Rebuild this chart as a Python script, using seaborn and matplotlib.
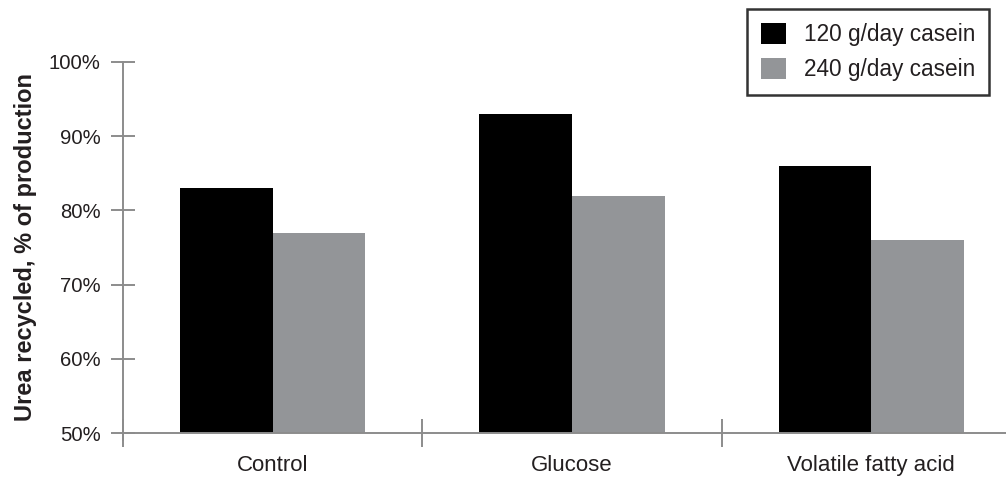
import matplotlib
matplotlib.use("Agg")
import matplotlib.pyplot as plt
import seaborn as sns
import pandas as pd
from matplotlib.ticker import FixedLocator, FuncFormatter

categories = ["Control", "Glucose", "Volatile fatty acid"]
series_names = ["120 g/day casein", "240 g/day casein"]
values_120 = [83, 93, 86]
values_240 = [77, 82, 76]
y_ticks = [50, 60, 70, 80, 90, 100]
y_label = "Urea recycled, % of production"

df = pd.DataFrame({
    "category": categories * 2,
    "series": [series_names[0]] * 3 + [series_names[1]] * 3,
    "value": values_120 + values_240,
})

sns.set_style("white")
plt.rcParams["font.family"] = ["Liberation Sans", "DejaVu Sans"]

axis_gray = "#8c8c8c"
text_col = "#231f20"
fig = plt.figure(figsize=(10.06, 4.79), dpi=100)
ax = fig.add_axes([0.1223, 0.096, 0.8777, 0.7746])

sns.barplot(data=df, x="category", y="value", hue="series",
            palette=["#000000", "#939598"], saturation=1, width=0.62,
            gap=0, linewidth=0, errorbar=None, ax=ax, zorder=2)

ax.set_ylim(50, 100)
ax.set_xlim(-0.5, 2.45)

for s in ["top", "right"]:
    ax.spines[s].set_visible(False)
ax.spines["left"].set_color(axis_gray)
ax.spines["left"].set_linewidth(1.4)
ax.spines["left"].set_bounds(49, 100)
ax.spines["bottom"].set_color(axis_gray)
ax.spines["bottom"].set_linewidth(1.4)
ax.spines["bottom"].set_zorder(3)

ax.set_yticks(y_ticks)
ax.yaxis.set_major_formatter(FuncFormatter(lambda v, p: f"{int(v)}%"))
ax.tick_params(axis="y", which="major", direction="inout", length=17,
               width=1.4, color=axis_gray, labelsize=14.6, pad=7.5,
               labelcolor=text_col, left=True)

ax.set_xticks([0, 1, 2])
ax.set_xticklabels(categories)
ax.tick_params(axis="x", which="major", length=0, labelsize=16, pad=16,
               labelcolor=text_col)
ax.xaxis.set_minor_locator(FixedLocator([-0.5, 0.5, 1.5]))
ax.tick_params(axis="x", which="minor", direction="inout", length=20,
               width=1.4, color=axis_gray, bottom=True)

ax.set_xlabel("")
ax.set_ylabel(y_label, fontsize=17, fontweight="bold", color=text_col)
ax.yaxis.set_label_coords(-0.098, 0.5)

handles, labels = ax.get_legend_handles_labels()
ax.legend(handles, labels, loc="upper right", bbox_to_anchor=(0.983, 0.981),
          bbox_transform=fig.transFigure, frameon=True, fancybox=False,
          edgecolor="black", fontsize=16.3, handlelength=1.1,
          handleheight=1.1, handletextpad=0.8, borderpad=0.6,
          labelspacing=0.5, borderaxespad=0)
leg = ax.get_legend()
leg.get_frame().set_linewidth(1.8)
for t in leg.get_texts():
    t.set_color(text_col)

fig.savefig("out.png", dpi=100)
